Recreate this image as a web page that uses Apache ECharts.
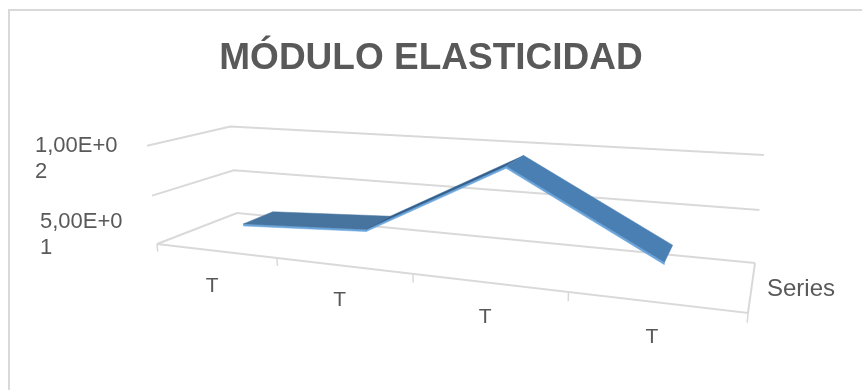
<!DOCTYPE html>
<html>
<head>
<meta charset="utf-8">
<script src="https://cdn.jsdelivr.net/npm/echarts/dist/echarts.min.js"></script>
<style>
html, body { margin: 0; padding: 0; background: #fff; }
#chart { width: 862px; height: 390px; }
</style>
</head>
<body>
<div id="chart"></div>
<script>
// data
const categories = ['T', 'T', 'T', 'T'];
const moduloValues = [15, 22, 93, 19];
const yTicks = [0, 50, 100];
const yTickLabels = ['', '5,00E+0\n1', '1,00E+0\n2'];
const seriesName = 'Series';
const yMax = 100;

// fake 3d box: floor corners (u,w) -> screen, then a height column
const floorQuad = [[157, 244], [748, 313], [755, 263], [237, 213]];
const heightRefs = [
  [0, 1, 0, 147, 146], [0, 1, 1, 230, 125], [1, 1, 1, 764, 157],
  [0, 0.5, 0, 152, 196], [0, 0.5, 1, 235, 169], [1, 0.5, 1, 759, 211]
];

function squareToQuad(q) {
  const [x0, y0] = q[0], [x1, y1] = q[1], [x2, y2] = q[2], [x3, y3] = q[3];
  const dx1 = x1 - x2, dx2 = x3 - x2, dx3 = x0 - x1 + x2 - x3;
  const dy1 = y1 - y2, dy2 = y3 - y2, dy3 = y0 - y1 + y2 - y3;
  const den = dx1 * dy2 - dx2 * dy1;
  const g = (dx3 * dy2 - dx2 * dy3) / den;
  const h = (dx1 * dy3 - dx3 * dy1) / den;
  return {
    a: x1 - x0 + g * x1, b: x3 - x0 + h * x3, c: x0,
    d: y1 - y0 + g * y1, e: y3 - y0 + h * y3, f: y0, g: g, h: h
  };
}
const H = squareToQuad(floorQuad);

function floorH(u, w) {
  return [H.a * u + H.b * w + H.c, H.d * u + H.e * w + H.f, H.g * u + H.h * w + 1];
}

// least squares for the height column
function solve3(A, b) {
  const m = A.map((r, i) => r.concat([b[i]]));
  for (let i = 0; i < 3; i++) {
    let p = i;
    for (let k = i + 1; k < 3; k++) if (Math.abs(m[k][i]) > Math.abs(m[p][i])) p = k;
    [m[i], m[p]] = [m[p], m[i]];
    for (let k = 0; k < 3; k++) {
      if (k === i) continue;
      const r = m[k][i] / m[i][i];
      for (let j = i; j < 4; j++) m[k][j] -= r * m[i][j];
    }
  }
  return [m[0][3] / m[0][0], m[1][3] / m[1][1], m[2][3] / m[2][2]];
}
const rows = [], rhs = [];
heightRefs.forEach(([u, v, w, tx, ty]) => {
  const [X, Y, W] = floorH(u, w);
  rows.push([v, 0, -tx * v]); rhs.push(tx * W - X);
  rows.push([0, v, -ty * v]); rhs.push(ty * W - Y);
});
const AtA = [[0, 0, 0], [0, 0, 0], [0, 0, 0]], Atb = [0, 0, 0];
rows.forEach((r, k) => {
  for (let i = 0; i < 3; i++) {
    Atb[i] += r[i] * rhs[k];
    for (let j = 0; j < 3; j++) AtA[i][j] += r[i] * r[j];
  }
});
const C = solve3(AtA, Atb);

function P(u, v, w) {
  const [X, Y, W] = floorH(u, w);
  const z = W + v * C[2];
  return [(X + v * C[0]) / z, (Y + v * C[1]) / z];
}

function toUV(params, api, idx, val) {
  const cs = params.coordSys;
  const pt = api.coord([idx, val]);
  return [(pt[0] - cs.x) / cs.width, (cs.y + cs.height - pt[1]) / cs.height];
}

const gridColor = '#d9d9d9';
const textColor = '#595959';
const ribbonFront = 0.36, ribbonBack = 0.76, ribbonThick = 0.022;

const chart = echarts.init(document.getElementById('chart'));
chart.setOption({
  animation: false,
  title: {
    text: 'MÓDULO ELASTICIDAD',
    left: 'center',
    top: 35,
    textStyle: { fontSize: 37, fontWeight: 'bold', color: textColor, fontFamily: 'Liberation Sans' }
  },
  grid: { left: 0, right: 0, top: 0, bottom: 0 },
  xAxis: { type: 'category', data: categories, show: false },
  yAxis: { type: 'value', min: 0, max: yMax, interval: 50, show: false },
  graphic: [
    { type: 'rect', z: -10, shape: { x: 9, y: 10, width: 900, height: 420 },
      style: { fill: null, stroke: gridColor, lineWidth: 2 } },
    { type: 'text', left: 35, top: 133,
      style: { text: yTickLabels[2], font: '22px "Liberation Sans"', lineHeight: 26, fill: textColor } },
    { type: 'text', left: 40, top: 209,
      style: { text: yTickLabels[1], font: '22px "Liberation Sans"', lineHeight: 26, fill: textColor } },
    { type: 'text', left: 767, top: 277,
      style: { text: seriesName, font: '24px "Liberation Sans"', fill: textColor } }
  ],
  series: [
    {
      // walls and floor lines
      type: 'custom',
      z: 1,
      data: yTicks.map(t => [0, t]),
      renderItem: function (params, api) {
        const v = toUV(params, api, 0, api.value(1))[1];
        const children = [{
          type: 'polyline',
          shape: { points: [P(0, v, 0), P(0, v, 1), P(1, v, 1)] },
          style: { stroke: gridColor, lineWidth: 2, fill: null }
        }];
        if (api.value(1) === 0) {
          children.push({
            type: 'polyline',
            shape: { points: [P(0, 0, 0), P(1, 0, 0), P(1, 0, 1)] },
            style: { stroke: gridColor, lineWidth: 2, fill: null }
          });
        }
        return { type: 'group', children: children };
      }
    },
    {
      // category ticks and labels
      type: 'custom',
      z: 1,
      data: categories.map((c, i) => [i, 0]),
      renderItem: function (params, api) {
        const i = api.value(0);
        const cs = params.coordSys;
        const uc = toUV(params, api, i, 0)[0];
        const half = api.size([1, 0])[0] / 2 / cs.width;
        const tick = u => ({
          type: 'line',
          shape: { x1: P(u, 0, 0)[0], y1: P(u, 0, 0)[1], x2: P(u, -0.08, 0)[0], y2: P(u, -0.08, 0)[1] },
          style: { stroke: gridColor, lineWidth: 1.5 }
        });
        const lp = P(uc, 0, 0);
        const children = [tick(uc - half), {
          type: 'text',
          x: lp[0] - 3, y: lp[1] + 35,
          style: { text: categories[i], font: '21px "Liberation Sans"', fill: textColor,
            textAlign: 'center', textVerticalAlign: 'middle' }
        }];
        if (i === categories.length - 1) children.push(tick(uc + half));
        return { type: 'group', children: children };
      }
    },
    {
      // 3d ribbon line
      type: 'custom',
      name: seriesName,
      z: 5,
      data: moduloValues.map((v, i) => [i, v]),
      renderItem: function (params, api) {
        const i = api.value(0);
        if (i >= moduloValues.length - 1) return null;
        const [u0, v0] = toUV(params, api, i, api.value(1));
        const [u1, v1] = toUV(params, api, i + 1, moduloValues[i + 1]);
        const slope = v1 - v0;
        const topColor = slope > 0.2 ? '#33608e' : (slope < -0.2 ? '#4a7fb3' : '#46749f');
        return {
          type: 'group',
          children: [
            {
              type: 'polygon',
              shape: { points: [P(u0, v0 - ribbonThick, ribbonFront), P(u1, v1 - ribbonThick, ribbonFront),
                P(u1, v1, ribbonFront), P(u0, v0, ribbonFront)] },
              style: { fill: '#6aa5dc', stroke: '#6aa5dc', lineWidth: 0.5 }
            },
            {
              type: 'polygon',
              shape: { points: [P(u0, v0, ribbonFront), P(u1, v1, ribbonFront),
                P(u1, v1, ribbonBack), P(u0, v0, ribbonBack)] },
              style: { fill: topColor, stroke: topColor, lineWidth: 0.5 }
            }
          ]
        };
      }
    }
  ]
});
</script>
</body>
</html>
